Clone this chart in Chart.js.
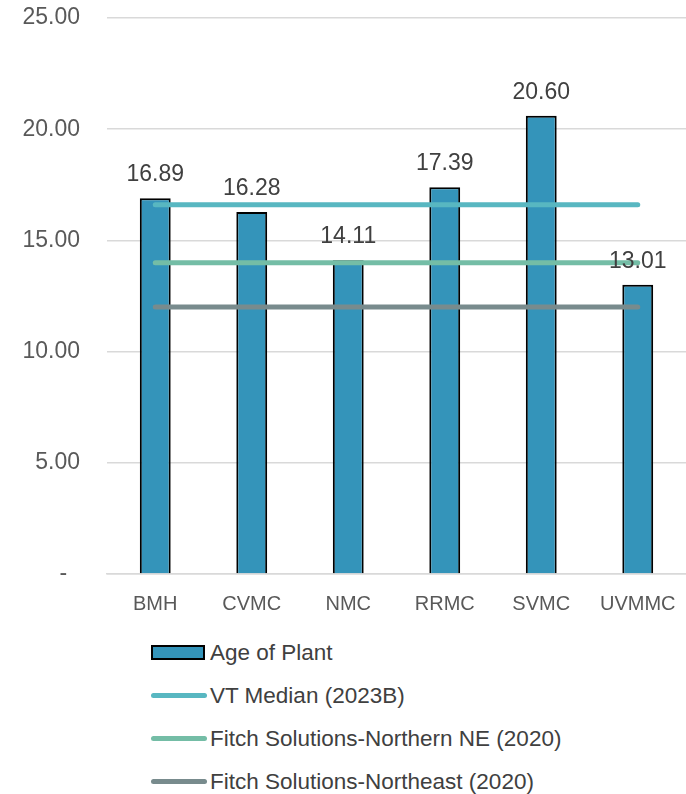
<!DOCTYPE html>
<html>
<head>
<meta charset="utf-8">
<script src="https://cdn.jsdelivr.net/npm/chart.js@4"></script>
<style>
  html, body { margin: 0; background: #fff; overflow: hidden; font-family: "Liberation Sans", Arial, sans-serif; }
  #wrap { position: relative; width: 686px; height: 626px; }
  #legend { position: absolute; left: 151px; top: 631px; }
  .item { display: flex; align-items: center; height: 43px; }
  .sym { width: 54px; height: 13px; margin-right: 5px; position: relative; }
  .txt { font-size: 22.5px; color: #404040; }
</style>
</head>
<body>
<div id="wrap"><canvas id="summaryChart"></canvas></div>
<div id="legend"></div>
<script>
// data
const categories = ['BMH', 'CVMC', 'NMC', 'RRMC', 'SVMC', 'UVMMC'];
const ageOfPlant = [16.89, 16.28, 14.11, 17.39, 20.60, 13.01];
const vtMedian = [16.6, 16.6, 16.6, 16.6, 16.6, 16.6];
const fitchNorthernNE = [14.0, 14.0, 14.0, 14.0, 14.0, 14.0];
const fitchNortheast = [12.0, 12.0, 12.0, 12.0, 12.0, 12.0];
const yTicks = [0, 5, 10, 15, 20, 25];

const FONT = '"Liberation Sans", Arial, sans-serif';

// values above the bars
const barLabels = {
    id: 'barLabels',
    afterDatasetsDraw(chart) {
        const c = chart.ctx;
        const idx = chart.data.datasets.findIndex(d => d.type === 'bar');
        const meta = chart.getDatasetMeta(idx);
        c.save();
        c.font = '23px ' + FONT;
        c.fillStyle = '#404040';
        c.textAlign = 'center';
        c.textBaseline = 'bottom';
        meta.data.forEach((bar, i) => {
            c.fillText(ageOfPlant[i].toFixed(2), bar.x, bar.y - 12);
        });
        c.restore();
    }
};

const ctx = document.getElementById('summaryChart').getContext('2d');
const lineDs = (label, data, color) => ({
    type: 'line',
    label: label,
    data: data,
    borderColor: color,
    backgroundColor: color,
    borderWidth: 5,
    borderCapStyle: 'round',
    pointRadius: 0,
    fill: false,
    order: 1
});

const myChart = new Chart(ctx, {
    type: 'bar',
    data: {
        labels: categories,
        datasets: [
            {
                type: 'bar',
                label: 'Age of Plant',
                data: ageOfPlant,
                backgroundColor: '#3494BA',
                borderColor: '#000000',
                borderWidth: 2,
                barPercentage: 0.32,
                categoryPercentage: 1,
                order: 2
            },
            lineDs('VT Median (2023B)', vtMedian, '#58B7C1'),
            lineDs('Fitch Solutions-Northern NE (2020)', fitchNorthernNE, '#74BDA6'),
            lineDs('Fitch Solutions-Northeast (2020)', fitchNortheast, '#788B8D')
        ]
    },
    options: {
        responsive: true,
        maintainAspectRatio: false,
        animation: false,
        layout: { padding: { top: 18, right: 0, left: 0, bottom: 0 } },
        plugins: { legend: { display: false }, tooltip: { enabled: false } },
        scales: {
            x: {
                grid: { display: false },
                border: { color: '#D9D9D9', width: 1.5 },
                ticks: { color: '#595959', font: { family: FONT, size: 20 }, padding: 10 }
            },
            y: {
                min: 0,
                max: 25,
                afterBuildTicks: (axis) => { axis.ticks = yTicks.map(v => ({ value: v })); },
                afterFit: (axis) => {
                    axis.width = 107;
                    // tick padding would otherwise push the top of the plot down
                    axis.paddingTop = 0;
                    axis.paddingBottom = 0;
                },
                grid: { color: '#D9D9D9', lineWidth: 1.5, drawTicks: false },
                border: { display: false },
                ticks: {
                    color: '#595959',
                    font: { family: FONT, size: 23 },
                    padding: 27,
                    callback: (v) => v === 0 ? '-  ' : v.toFixed(2)
                }
            }
        }
    },
    plugins: [barLabels]
});

// legend, one item per row
const legendEl = document.getElementById('legend');
myChart.data.datasets.forEach(ds => {
    const item = document.createElement('div');
    item.className = 'item';
    const sym = document.createElement('div');
    sym.className = 'sym';
    if (ds.type === 'bar') {
        sym.style.cssText = 'width:50px;height:11px;background:' + ds.backgroundColor + ';border:2px solid #000;margin-right:5px;';
    } else {
        sym.innerHTML = '<div style="position:absolute;left:0;top:4px;width:56px;height:5px;border-radius:3px;background:' + ds.borderColor + '"></div>';
    }
    const txt = document.createElement('span');
    txt.className = 'txt';
    txt.textContent = ds.label;
    item.appendChild(sym);
    item.appendChild(txt);
    legendEl.appendChild(item);
});
</script>
</body>
</html>
